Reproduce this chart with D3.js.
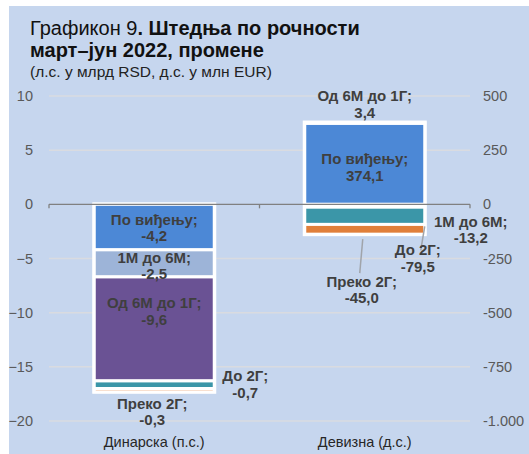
<!DOCTYPE html>
<html>
<head>
<meta charset="utf-8">
<script src="https://cdn.jsdelivr.net/npm/d3@7"></script>
<style>
  html, body { margin: 0; padding: 0; background: #ffffff; }
  svg { display: block; font-family: "Liberation Sans", Arial, sans-serif; }
</style>
</head>
<body>
<svg id="chart" width="529" height="454"></svg>
<script>
// Categories and maturity series
const categories = ["Динарска (п.с.)", "Девизна (д.с.)"];
const seriesNames = ["По виђењу", "1М до 6М", "Од 6М до 1Г", "До 2Г", "Преко 2Г"];
// Dinar savings change, RSD bn (left axis)
const dinarValues = [-4.2, -2.5, -9.6, -0.7, -0.3];
// FX savings change, EUR mn (right axis)
const fxValues = [374.1, -13.2, 3.4, -79.5, -45.0];
// Axis ticks
const leftTicks = [10, 5, 0, -5, -10, -15, -20];
const rightTicks = [500, 250, 0, -250, -500, -750, -1000];
const rightTickLabels = ["500", "250", "0", "-250", "-500", "-750", "-1.000"];

const seriesColors = ["#4c88d6", "#9db4d8", "#6a5294", "#3b96a8", "#e07f3a"];

// Label placement for each series on each bar: offsets from segment centre, optional leader line
const labelLayout = [
  [ {dx: 0, dy: 0}, {dx: 0, dy: 2}, {dx: 0, dy: -18}, {dx: 91, dy: -1}, {dx: -2, dy: 21} ],
  [ {dx: 0, dy: 3}, {dx: 106, dy: 23.5}, {dx: 0, dy: -19}, {dx: 53, dy: 42, leader: [60, 2, 56, 26]}, {dx: -3, dy: 60, leader: [-2, 5, -5, 39]} ]
];

const svg = d3.select("#chart");
const W = 529, H = 454;

// Panel background
svg.append("rect").attr("x", 9).attr("y", 6).attr("width", W - 9).attr("height", H - 6)
  .attr("fill", "#c6d6ee");

const x0 = 49, x1 = 470, yTop = 96, yBot = 421;
const yL = d3.scaleLinear().domain([-20, 10]).range([yBot, yTop]);
const yR = d3.scaleLinear().domain([-1000, 500]).range([yBot, yTop]);
const x = d3.scaleBand().domain(categories).range([x0, x1]).paddingInner(0.43).paddingOuter(0.215);

// Gridlines
svg.append("g").selectAll("line").data(leftTicks.filter(t => t !== 0)).join("line")
  .attr("x1", x0).attr("x2", x1)
  .attr("y1", d => yL(d)).attr("y2", d => yL(d))
  .attr("stroke", "#d9dbe0").attr("stroke-width", 1.5);

// Left axis
const axL = svg.append("g").attr("transform", `translate(${x0},0)`)
  .call(d3.axisLeft(yL).tickValues(leftTicks).tickSize(0).tickPadding(16).tickFormat(d3.format("d")));
axL.select(".domain").remove();
axL.selectAll("text").attr("fill", "#595959").style("font-size", "14.5px")
  .style("font-family", "Liberation Sans, Arial, sans-serif");

// Right axis
const axR = svg.append("g").attr("transform", `translate(${x1},0)`)
  .call(d3.axisRight(yR).tickValues(rightTicks).tickSize(0).tickPadding(13)
    .tickFormat((d, i) => rightTickLabels[i]));
axR.select(".domain").remove();
axR.selectAll("text").attr("fill", "#595959").style("font-size", "14.5px")
  .style("font-family", "Liberation Sans, Arial, sans-serif");

// Stacked (diverging) bars
const rows = [dinarValues, fxValues];
const scales = [yL, yR];
rows.forEach((vals, ci) => {
  const datum = {};
  seriesNames.forEach((s, i) => datum[s] = vals[i]);
  const stacked = d3.stack().keys(seriesNames).offset(d3.stackOffsetDiverging)([datum]);
  const ys = scales[ci];
  const cx = x(categories[ci]) + x.bandwidth() / 2;
  const g = svg.append("g");

  // White frame around the whole stack
  const lo = d3.min(stacked, s => s[0][0]), hi = d3.max(stacked, s => s[0][1]);
  g.append("rect").attr("x", x(categories[ci]) - 2).attr("width", x.bandwidth() + 4)
    .attr("y", ys(hi) - 2).attr("height", ys(lo) - ys(hi) + 4).attr("fill", "#ffffff");

  g.selectAll("rect.seg").data(stacked).join("rect").attr("class", "seg")
    .attr("x", x(categories[ci]))
    .attr("width", x.bandwidth())
    .attr("y", s => ys(Math.max(s[0][0], s[0][1])))
    .attr("height", s => Math.abs(ys(s[0][0]) - ys(s[0][1])))
    .attr("fill", (s, i) => seriesColors[i])
    .attr("stroke", "#ffffff").attr("stroke-width", 3);

  // Labels
  stacked.forEach((s, i) => {
    const lay = labelLayout[ci][i];
    const cy = (ys(s[0][0]) + ys(s[0][1])) / 2;
    if (lay.leader) {
      g.append("line")
        .attr("x1", cx + lay.leader[0]).attr("y1", ys(s[0][0]) + lay.leader[1])
        .attr("x2", cx + lay.leader[2]).attr("y2", ys(s[0][0]) + lay.leader[3])
        .attr("stroke", "#a0a4aa").attr("stroke-width", 1.5);
    }
    const v = vals[i].toFixed(1).replace(".", ",");
    const t = g.append("text").attr("text-anchor", "middle")
      .attr("fill", "#3f3f3f").style("font-size", "15px").style("font-weight", "bold");
    t.append("tspan").attr("x", cx + lay.dx).attr("y", cy + lay.dy - 2.5).text(seriesNames[i] + ";");
    t.append("tspan").attr("x", cx + lay.dx).attr("y", cy + lay.dy + 14).text(v);
  });
});

// Zero line with category ticks
const y0 = yL(0);
svg.append("line").attr("x1", x0).attr("x2", x1).attr("y1", y0).attr("y2", y0)
  .attr("stroke", "#808080").attr("stroke-width", 1.3);
svg.append("g").selectAll("line").data([x0, (x0 + x1) / 2, x1]).join("line")
  .attr("x1", d => d).attr("x2", d => d).attr("y1", y0).attr("y2", y0 + 4)
  .attr("stroke", "#808080").attr("stroke-width", 1.3);

// Category labels
svg.append("g").selectAll("text").data(categories).join("text")
  .attr("x", d => x(d) + x.bandwidth() / 2).attr("y", 447)
  .attr("text-anchor", "middle").attr("fill", "#262626").style("font-size", "14.5px")
  .text(d => d);

// Title
const title = svg.append("text").attr("x", 30).attr("y", 35).attr("fill", "#111111").style("font-size", "20px");
title.append("tspan").text("Графикон 9");
title.append("tspan").style("font-weight", "bold").text(". Штедња по рочности");
svg.append("text").attr("x", 30).attr("y", 57).attr("fill", "#111111").style("font-size", "20px")
  .style("font-weight", "bold").text("март–јун 2022, промене");
svg.append("text").attr("x", 30).attr("y", 77).attr("fill", "#222222").style("font-size", "15.5px")
  .text("(л.с. у млрд RSD, д.с. у млн EUR)");
</script>
</body>
</html>
